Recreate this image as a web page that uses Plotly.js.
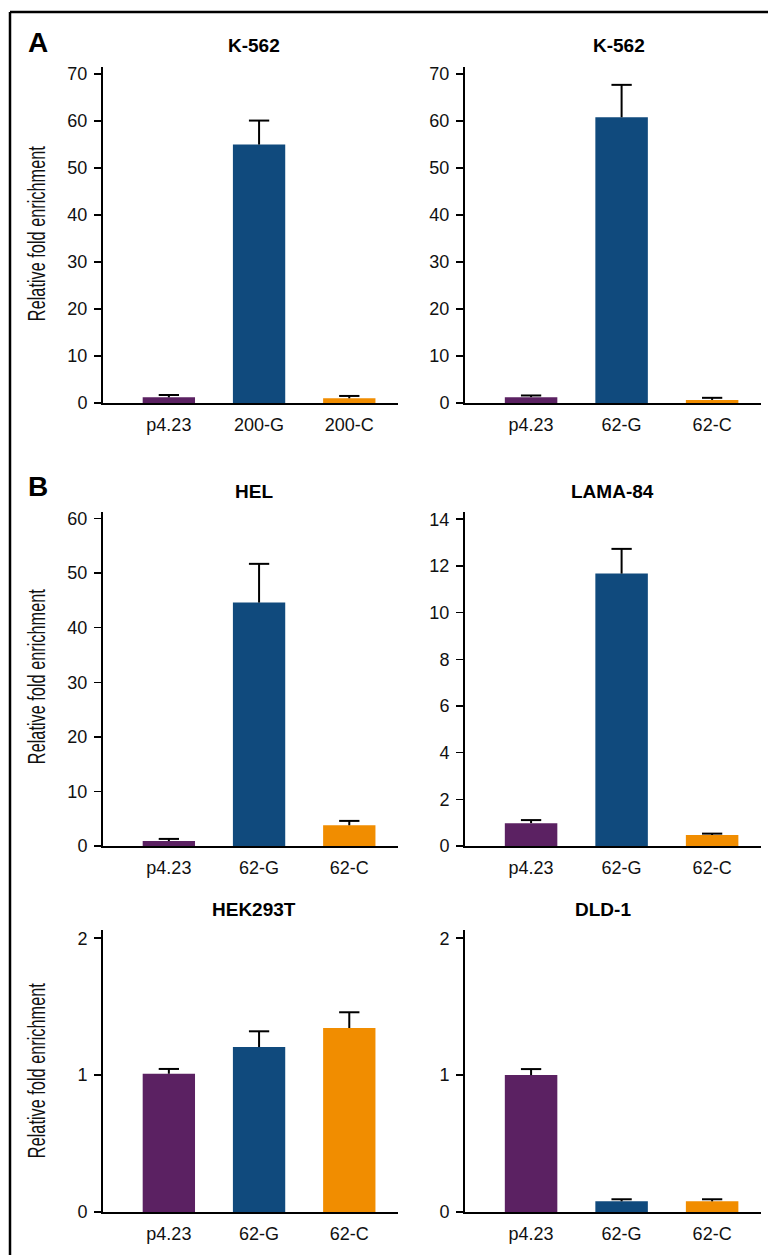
<!DOCTYPE html>
<html>
<head>
<meta charset="utf-8">
<script src="https://cdn.plot.ly/plotly-3.0.1.min.js"></script>
<style>html,body{margin:0;padding:0;background:#fff;}#chart{width:768px;height:1255px;}</style>
</head>
<body>
<div id="chart"></div>
<script>
// ---- data ----
const catsA1 = ['p4.23', '200-G', '200-C'];
const cats62 = ['p4.23', '62-G', '62-C'];
const panelTitles = ['K-562', 'K-562', 'HEL', 'LAMA-84', 'HEK293T', 'DLD-1'];
const yTitle = 'Relative fold enrichment';

const k562_200_vals = [1.2, 55.0, 1.0];
const k562_200_err = [0.5, 5.1, 0.5];
const k562_62_vals = [1.25, 60.8, 0.65];
const k562_62_err = [0.35, 6.9, 0.45];
const hel_vals = [0.9, 44.6, 3.8];
const hel_err = [0.4, 7.1, 0.8];
const lama_vals = [0.98, 11.67, 0.47];
const lama_err = [0.13, 1.06, 0.06];
const hek_vals = [1.01, 1.205, 1.344];
const hek_err = [0.035, 0.115, 0.115];
const dld_vals = [1.0, 0.078, 0.078];
const dld_err = [0.044, 0.015, 0.015];

const yTicksA = [0, 10, 20, 30, 40, 50, 60, 70];
const yTicksHEL = [0, 10, 20, 30, 40, 50, 60];
const yTicksLAMA = [0, 2, 4, 6, 8, 10, 12, 14];
const yTicksLow = [0, 1, 2];

const barColors = ['#5B2162', '#104A7D', '#F18D00'];

// ---- layout helpers ----
const W = 768, H = 1255;
const px = v => v / W;
const py = v => 1 - v / H;

const panels = [
  {cats: catsA1, vals: k562_200_vals, err: k562_200_err, ticks: yTicksA, top: 71.5, x0: 103, x1: 398, y0: 67, y1: 403},
  {cats: cats62, vals: k562_62_vals, err: k562_62_err, ticks: yTicksA, top: 71.5, x0: 465, x1: 761, y0: 67, y1: 403},
  {cats: cats62, vals: hel_vals, err: hel_err, ticks: yTicksHEL, top: 61.2, x0: 103, x1: 398, y0: 512, y1: 846},
  {cats: cats62, vals: lama_vals, err: lama_err, ticks: yTicksLAMA, top: 14.31, x0: 465, x1: 761, y0: 512, y1: 846},
  {cats: cats62, vals: hek_vals, err: hek_err, ticks: yTicksLow, top: 2.06, x0: 103, x1: 398, y0: 930, y1: 1212},
  {cats: cats62, vals: dld_vals, err: dld_err, ticks: yTicksLow, top: 2.06, x0: 465, x1: 761, y0: 930, y1: 1212}
];

const tickFont = {family: '"Liberation Sans", Arial, Helvetica, sans-serif', size: 18, color: '#111'};
const data = [];
const layout = {
  width: W, height: H,
  margin: {l: 0, r: 0, t: 0, b: 0},
  paper_bgcolor: '#fff', plot_bgcolor: 'rgba(0,0,0,0)',
  showlegend: false,
  annotations: [],
  shapes: []
};

panels.forEach((p, i) => {
  const n = i + 1;
  const xa = 'x' + (n === 1 ? '' : n);
  const ya = 'y' + (n === 1 ? '' : n);
  data.push({
    type: 'bar', x: p.cats, y: p.vals, xaxis: xa, yaxis: ya,
    width: 0.58, marker: {color: barColors, line: {width: 0}},
    hoverinfo: 'x+y'
  });
  // error stems (upper only), built from values and errors
  const sx = [], sy = [];
  p.cats.forEach((c, k) => { sx.push(c, c, null); sy.push(p.vals[k], p.vals[k] + p.err[k], null); });
  data.push({
    type: 'scatter', mode: 'lines', x: sx, y: sy, xaxis: xa, yaxis: ya,
    line: {color: '#000', width: 2}, hoverinfo: 'skip'
  });
  data.push({
    type: 'scatter', mode: 'markers', x: p.cats, y: p.vals.map((v, k) => v + p.err[k]),
    xaxis: xa, yaxis: ya,
    marker: {symbol: 'line-ew', size: 14.5, color: '#000', line: {color: '#000', width: 2}},
    hoverinfo: 'skip'
  });
  const xk = 'xaxis' + (n === 1 ? '' : n);
  const yk = 'yaxis' + (n === 1 ? '' : n);
  layout[xk] = {
    domain: [px(p.x0), px(p.x1)], anchor: ya, type: 'category',
    range: [-0.73, 2.54], showline: true, linecolor: '#000', linewidth: 2,
    showgrid: false, zeroline: false, ticks: 'outside', ticklen: 4, tickcolor: 'rgba(0,0,0,0)',
    tickfont: tickFont, fixedrange: true
  };
  layout[yk] = {
    domain: [py(p.y1), py(p.y0)], anchor: xa, range: [0, p.top],
    tickmode: 'array', tickvals: p.ticks, ticktext: p.ticks.map(String),
    showline: true, linecolor: '#000', linewidth: 2,
    showgrid: false, zeroline: false, ticks: 'outside', ticklen: 7, tickwidth: 1.5, tickcolor: '#000',
    ticklabelstandoff: 3,
    tickfont: tickFont, fixedrange: true
  };
});

// panel titles
const titlePos = [[254, 46], [619, 46], [254, 491], [612, 491], [254, 909], [603, 909]];
panelTitles.forEach((t, i) => {
  layout.annotations.push({
    text: '<b>' + t + '</b>', xref: 'paper', yref: 'paper',
    x: px(titlePos[i][0]), y: py(titlePos[i][1]), xanchor: 'center', yanchor: 'middle',
    showarrow: false, font: {family: '"Liberation Sans", Arial, Helvetica, sans-serif', size: 19, color: '#000'}
  });
});

// y-axis titles
[234, 677, 1071].forEach(yc => {
  layout.annotations.push({
    text: yTitle, xref: 'paper', yref: 'paper',
    x: px(37), y: py(yc), xanchor: 'center', yanchor: 'middle', textangle: -90,
    showarrow: false, font: {family: '"Liberation Sans", Arial, sans-serif', size: 23, color: '#111'}
  });
});

// panel letters
[['A', 42], ['B', 487]].forEach(([t, y]) => {
  layout.annotations.push({
    text: '<b>' + t + '</b>', xref: 'paper', yref: 'paper',
    x: px(38), y: py(y), xanchor: 'center', yanchor: 'middle',
    showarrow: false, font: {family: '"Liberation Sans", Arial, Helvetica, sans-serif', size: 28, color: '#000'}
  });
});

// figure frame (top and left edges)
layout.shapes.push({type: 'line', xref: 'paper', yref: 'paper', x0: px(10), x1: 1.02, y0: py(12), y1: py(12), line: {color: '#000', width: 2.5}});
layout.shapes.push({type: 'line', xref: 'paper', yref: 'paper', x0: px(10), x1: px(10), y0: py(12), y1: -0.02, line: {color: '#000', width: 2.5}});

Plotly.newPlot('chart', data, layout, {displayModeBar: false, staticPlot: true}).then(gd => {
  // condense the y-axis titles (narrow typeface look)
  gd.querySelectorAll('text.annotation-text').forEach(t => {
    if (t.textContent === yTitle) {
      t.setAttribute('textLength', '175');
      t.setAttribute('lengthAdjust', 'spacingAndGlyphs');
    }
  });
});
</script>
</body>
</html>
